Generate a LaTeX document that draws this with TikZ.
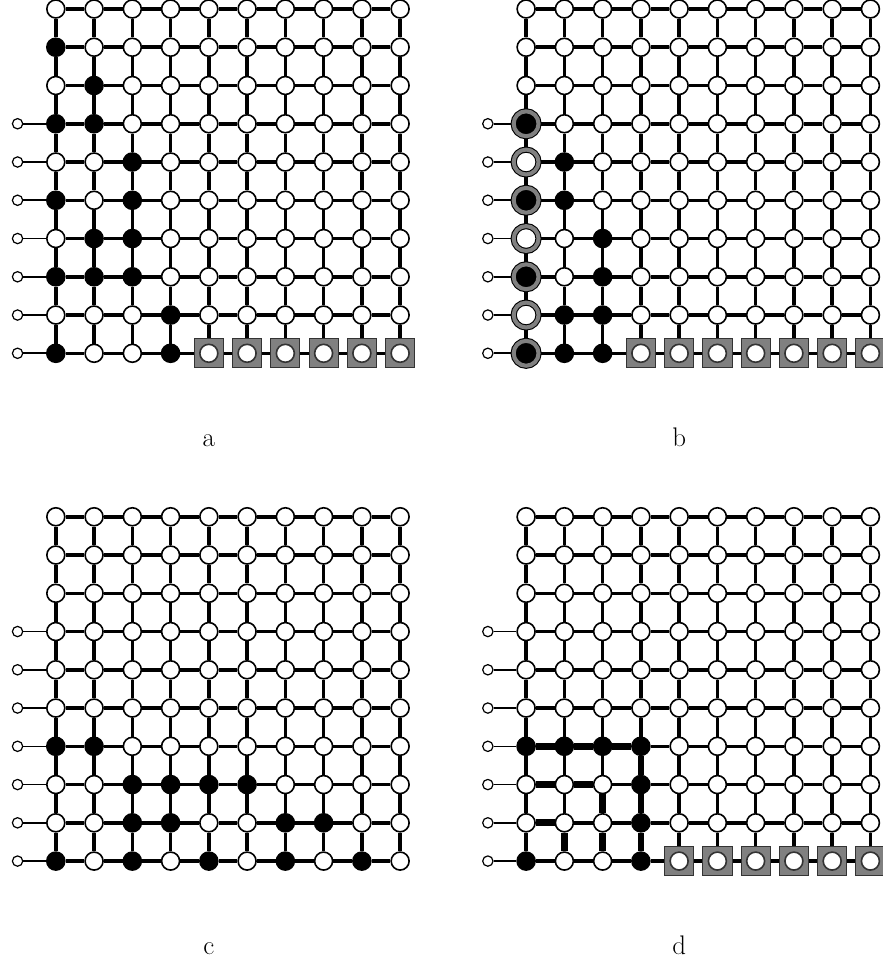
\documentclass[tikz,border=0pt]{standalone}
\usepackage{fontspec}
\usepackage{tikz}
\usetikzlibrary{backgrounds}

\begin{document}
\begin{tikzpicture}[x=1cm,y=1cm,
  site/.style={circle,draw,line width=1.2pt,minimum size=4.7mm,inner sep=0pt},
  site o/.style={site,fill=white},
  site f/.style={site,fill=black},
  ring/.style={circle,draw,line width=0.8pt,double=black!50,double distance=3pt,minimum size=6.5mm,inner sep=0pt},
  site r/.style={ring,fill=black},
  site e/.style={ring,fill=white},
  site s/.style={rectangle,draw=black!80,line width=0.6pt,fill=black!50,minimum size=7.6mm,inner sep=0pt,
    path picture={\draw[line width=1.2pt,fill=white] (path picture bounding box.center) circle (2.35mm);}},
  pin/.style={circle,draw,line width=0.9pt,fill=white,minimum size=2.7mm,inner sep=0pt},
  bond/.style={line width=2.6pt},
  lead/.style={line width=1.2pt},
  hot/.style={line width=5pt},
  tag/.style={anchor=base,font=\fontsize{20}{24}\selectfont}]
\useasboundingbox (0,0) rectangle (23.06,-25.12);
% o open, f filled, s sink, r/e ringed filled/open
\foreach \p/\ox/\oy/\pattern in {
  a/1.459/-0.235/{{o,o,o,o,o,o,o,o,o,o},{f,o,o,o,o,o,o,o,o,o},{o,f,o,o,o,o,o,o,o,o},
    {f,f,o,o,o,o,o,o,o,o},{o,o,f,o,o,o,o,o,o,o},{f,o,f,o,o,o,o,o,o,o},{o,f,f,o,o,o,o,o,o,o},
    {f,f,f,o,o,o,o,o,o,o},{o,o,o,f,o,o,o,o,o,o},{f,o,o,f,s,s,s,s,s,s}},
  b/13.752/-0.235/{{o,o,o,o,o,o,o,o,o,o},{o,o,o,o,o,o,o,o,o,o},{o,o,o,o,o,o,o,o,o,o},
    {r,o,o,o,o,o,o,o,o,o},{e,f,o,o,o,o,o,o,o,o},{r,f,o,o,o,o,o,o,o,o},{e,o,f,o,o,o,o,o,o,o},
    {r,o,f,o,o,o,o,o,o,o},{e,f,f,o,o,o,o,o,o,o},{r,f,f,s,s,s,s,s,s,s}},
  c/1.459/-13.508/{{o,o,o,o,o,o,o,o,o,o},{o,o,o,o,o,o,o,o,o,o},{o,o,o,o,o,o,o,o,o,o},
    {o,o,o,o,o,o,o,o,o,o},{o,o,o,o,o,o,o,o,o,o},{o,o,o,o,o,o,o,o,o,o},{f,f,o,o,o,o,o,o,o,o},
    {o,o,f,f,f,f,o,o,o,o},{o,o,f,f,o,o,f,f,o,o},{f,o,f,o,f,o,f,o,f,o}},
  d/13.752/-13.508/{{o,o,o,o,o,o,o,o,o,o},{o,o,o,o,o,o,o,o,o,o},{o,o,o,o,o,o,o,o,o,o},
    {o,o,o,o,o,o,o,o,o,o},{o,o,o,o,o,o,o,o,o,o},{o,o,o,o,o,o,o,o,o,o},{f,f,f,f,o,o,o,o,o,o},
    {o,o,o,f,o,o,o,o,o,o},{o,o,o,f,o,o,o,o,o,o},{f,o,o,f,s,s,s,s,s,s}}}{
  \begin{scope}[shift={(\ox,\oy)}]
  \foreach \row [count=\r from 0] in \pattern
    \foreach \v [count=\c from 0] in \row
      \node[site \v] (\p-\c-\r) at (\c,-\r) {};
  \foreach \r in {3,...,9}
    \node[pin] (\p-in-\r) at (-1,-\r) {};
  \begin{scope}[on background layer]
  \foreach \i in {0,...,9}
    \foreach \j [count=\k] in {0,...,8} {
      \draw[bond] (\p-\j-\i) -- (\p-\k-\i);
      \draw[bond] (\p-\i-\j) -- (\p-\i-\k);
    }
  \foreach \r in {3,...,9}
    \draw[lead] (\p-in-\r) -- (\p-0-\r);
  \end{scope}
  \node[tag] (\p-tag) at (4,-11.43) {\p};
  \end{scope}}
% highlighted bonds in d
\begin{scope}[on background layer]
\foreach \u/\w in {0-6/1-6,1-6/2-6,2-6/3-6,3-6/3-7,3-7/3-8,3-8/3-9,
    0-7/1-7,1-7/2-7,2-7/2-8,2-8/2-9,0-8/1-8,1-8/1-9}
  \draw[hot] (d-\u) -- (d-\w);
\end{scope}
\end{tikzpicture}
\end{document}
